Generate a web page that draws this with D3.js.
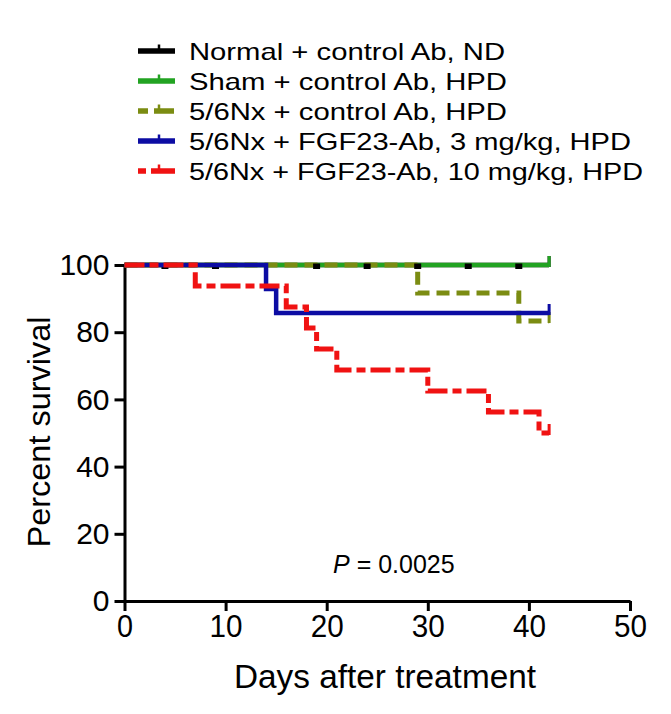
<!DOCTYPE html>
<html>
<head>
<meta charset="utf-8">
<script src="https://cdnjs.cloudflare.com/ajax/libs/d3/7.8.5/d3.min.js"></script>
<style>
body { margin: 0; background: #fff; }
text { font-family: "Liberation Sans", Arial, sans-serif; fill: #000; }
</style>
</head>
<body>
<div id="chart"></div>
<script>
var width = 671,
  height = 714;

// legend labels, top to bottom
var groups = [
  "Normal + control Ab, ND",
  "Sham + control Ab, HPD",
  "5/6Nx + control Ab, HPD",
  "5/6Nx + FGF23-Ab, 3 mg/kg, HPD",
  "5/6Nx + FGF23-Ab, 10 mg/kg, HPD"
];
var colors = ["#000000", "#22a322", "#7b8c12", "#0c0ca3", "#f01212"];

// Kaplan-Meier steps: [day, percent survival]
var normalSteps = [[0, 100], [42, 100]];
var shamSteps = [[0, 100], [42, 100]];
var nxCtrlSteps = [[0, 100], [29, 91.67], [39, 83.33], [42, 83.33]];
var ab3Steps = [[0, 100], [14, 92.86], [15, 85.71], [42, 85.71]];
var ab10Steps = [[0, 100], [7, 93.75], [16, 87.5], [18, 81.25], [19, 75], [21, 68.75],
  [30, 62.5], [36, 56.25], [41, 50], [42, 50]];
// censor marks of the normal group
var normalCensored = [4, 9, 19, 24, 29, 34, 39];

var xTicks = [0, 10, 20, 30, 40, 50];
var yTicks = [0, 20, 40, 60, 80, 100];
var pLabel = " = 0.0025";

var svg = d3.select("#chart").append("svg")
  .attr("width", width)
  .attr("height", height);

var x = d3.scaleLinear().domain([0, 50]).range([124.5, 630]);
var y = d3.scaleLinear().domain([0, 100]).range([601, 265]);

// axes
var xAxis = svg.append("g")
  .attr("transform", "translate(0," + y(0) + ")")
  .call(d3.axisBottom(x).tickValues(xTicks).tickSize(10).tickSizeOuter(0).tickPadding(3));
var yAxis = svg.append("g")
  .attr("transform", "translate(" + x(0) + ",0)")
  .call(d3.axisLeft(y).tickValues(yTicks).tickSize(10).tickSizeOuter(0).tickPadding(5));

[xAxis, yAxis].forEach(function(a) {
  a.select(".domain").attr("stroke", "#000").attr("stroke-width", 3);
  a.selectAll(".tick line").attr("stroke", "#000").attr("stroke-width", 3);
  a.selectAll(".tick text")
    .style("font-family", "'Liberation Sans', Arial, sans-serif")
    .style("font-size", "30px")
    .attr("fill", "#000");
});
xAxis.selectAll(".tick text").style("font-size", "32px")
  .attr("textLength", function(d) { return d === 0 ? 16 : 33; })
  .attr("lengthAdjust", "spacingAndGlyphs");

// axis titles
svg.append("text")
  .attr("x", 385)
  .attr("y", 688)
  .attr("text-anchor", "middle")
  .attr("textLength", 302)
  .attr("lengthAdjust", "spacingAndGlyphs")
  .style("font-size", "34px")
  .text("Days after treatment");

svg.append("text")
  .attr("transform", "translate(50,432) rotate(-90)")
  .attr("text-anchor", "middle")
  .attr("textLength", 231)
  .attr("lengthAdjust", "spacingAndGlyphs")
  .style("font-size", "31px")
  .text("Percent survival");

// survival curves
var line = d3.line()
  .x(function(d) { return x(d[0]); })
  .y(function(d) { return y(d[1]); })
  .curve(d3.curveStepAfter);

function drawCurve(steps, color, dash, sw) {
  svg.append("path")
    .datum(steps)
    .attr("d", line)
    .attr("fill", "none")
    .attr("stroke", color)
    .attr("stroke-width", sw)
    .attr("stroke-dasharray", dash);
  // censor tick at end of follow-up
  var last = steps[steps.length - 1];
  svg.append("line")
    .attr("x1", x(last[0])).attr("x2", x(last[0]))
    .attr("y1", y(last[1]) + 2).attr("y2", y(last[1]) - 9)
    .attr("stroke", color)
    .attr("stroke-width", 3);
}

drawCurve(normalSteps, colors[0], null, 4.5);
drawCurve(shamSteps, colors[1], null, 4.5);
drawCurve(nxCtrlSteps, colors[2], "13,7", 5);

svg.selectAll(".cens")
  .data(normalCensored)
  .enter().append("rect")
  .attr("class", "cens")
  .attr("x", function(d) { return x(d) - 3.5; })
  .attr("y", y(100) - 1.5)
  .attr("width", 7)
  .attr("height", 5.5)
  .attr("fill", "#000");

drawCurve(ab3Steps, colors[3], null, 4.5);
drawCurve(ab10Steps, colors[4], "20,5,9,5", 5);

// p value
var pText = svg.append("text")
  .attr("x", 333)
  .attr("y", 573)
  .style("font-size", "25px");
pText.append("tspan").style("font-style", "italic").text("P");
pText.append("tspan").text(pLabel);

// legend
var legendDash = [null, null, "10,6,20", null, "8,5,24"];
var legendLen = [316, 318, 318, 442, 454];
var legendY = [51, 81, 111, 141, 171];

var leg = svg.selectAll(".leg")
  .data(groups)
  .enter().append("g")
  .attr("class", "leg")
  .attr("transform", function(d, i) { return "translate(0," + legendY[i] + ")"; });

leg.append("line")
  .attr("x1", 138).attr("x2", 175)
  .attr("y1", 0).attr("y2", 0)
  .attr("stroke", function(d, i) { return colors[i]; })
  .attr("stroke-width", 5.5)
  .attr("stroke-dasharray", function(d, i) { return legendDash[i]; });

leg.append("line")
  .attr("x1", 159).attr("x2", 159)
  .attr("y1", 0).attr("y2", -6.5)
  .attr("stroke", function(d, i) { return colors[i]; })
  .attr("stroke-width", 2.5);

leg.append("text")
  .attr("x", 189)
  .attr("y", 8.5)
  .attr("textLength", function(d, i) { return legendLen[i]; })
  .attr("lengthAdjust", "spacingAndGlyphs")
  .style("font-size", "24px")
  .text(function(d) { return d; });
</script>
</body>
</html>
